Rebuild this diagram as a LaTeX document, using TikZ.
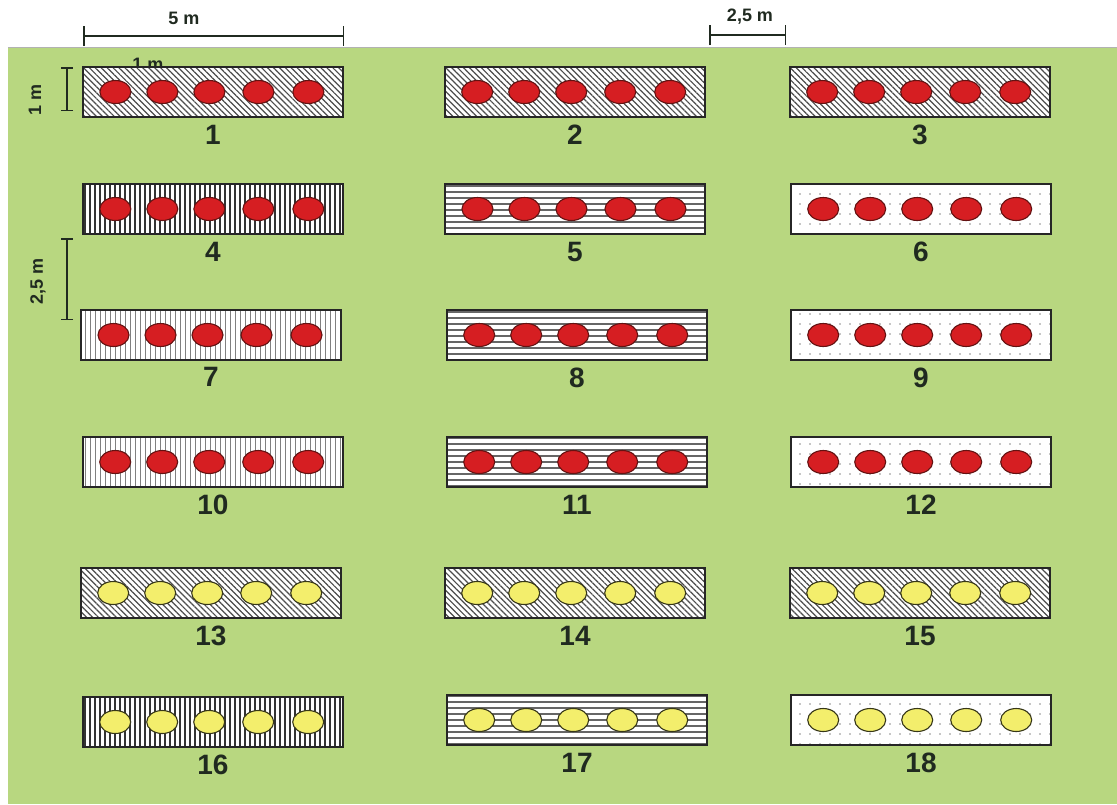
\documentclass[tikz,border=0pt]{standalone}
\usepackage{fontspec}
\setmainfont{Liberation Sans}
\usepackage{tikz}
\usetikzlibrary{
  shapes.geometric,
  arrows.meta,
  positioning,
  patterns.meta
}
\definecolor{fieldgreen}{RGB}{184,215,128}
\definecolor{seedred}{RGB}{214,30,34}
\definecolor{seededge}{RGB}{100,18,18}
\definecolor{seedyellow}{RGB}{243,238,108}
\definecolor{yellowedge}{RGB}{55,55,25}
\definecolor{textdark}{RGB}{32,42,32}
\tikzset{
  plotbox/.style={rectangle,draw=black!85,line width=1.6pt,preaction={fill=white},
    minimum width=260pt,minimum height=50pt,inner sep=0pt},
  hatchfill/.style={pattern={Lines[angle=-45,distance=4.2pt,line width=1.2pt]},pattern color=black!70},
  vlinefill/.style={pattern={Lines[angle=90,distance=5pt,line width=1.3pt]},pattern color=black!80},
  vlinelight/.style={pattern={Lines[angle=90,distance=5pt,line width=1pt]},pattern color=black!50},
  hlinefill/.style={pattern={Lines[distance=6pt,line width=1.1pt]},pattern color=black!60},
  dotfill/.style={pattern={Dots[distance=10pt,radius=0.8pt]},pattern color=black!45},
  seed/.style={ellipse,minimum width=31pt,minimum height=23pt,inner sep=0pt,line width=1.1pt},
  redseed/.style={seed,fill=seedred,draw=seededge},
  yellowseed/.style={seed,fill=seedyellow,draw=yellowedge},
  numlabel/.style={inner sep=0pt,font=\fontsize{28}{30}\selectfont\bfseries,text=textdark},
  dimtext/.style={inner sep=0pt,font=\fontsize{18}{20}\selectfont\bfseries,text=textdark},
  dimline/.style={line width=1.5pt,draw=textdark},
  hdim/.style={dimline,{Bar[width=20pt,line width=1.5pt]}-{Bar[width=20pt,line width=1.5pt]}},
  vdim/.style={dimline,{Bar[width=12pt,line width=1.5pt]}-{Bar[width=12pt,line width=1.5pt]}}
}

\begin{document}
\begin{tikzpicture}[x=1pt,y=-1pt]
  \useasboundingbox (0,0) rectangle (1117,804);
  \fill[white] (0,0) rectangle (1117,804);
  \fill[fieldgreen] (8,47) rectangle (1117,804);
  \draw[black!30,line width=0.8pt] (8,47) -- (1117,47);

  % small width mark, partly hidden under plot 1
  \node[dimtext,anchor=base] (onem) at (148,70) {1 m};

  % plots: number / centre x / centre y / ground cover / seed
  \foreach \n/\cx/\cy/\pat/\col in {
      1/213/92/hatchfill/redseed,   2/575/92/hatchfill/redseed,   3/920/92/hatchfill/redseed,
      4/213/209/vlinefill/redseed,  5/575/209/hlinefill/redseed,  6/921/209/dotfill/redseed,
      7/211/335/vlinelight/redseed, 8/577/335/hlinefill/redseed,  9/921/335/dotfill/redseed,
      10/213/462/vlinelight/redseed, 11/577/462/hlinefill/redseed, 12/921/462/dotfill/redseed,
      13/211/593/hatchfill/yellowseed, 14/575/593/hatchfill/yellowseed, 15/920/593/hatchfill/yellowseed,
      16/213/722/vlinefill/yellowseed, 17/577/720/hlinefill/yellowseed, 18/921/720/dotfill/yellowseed} {
    \node[plotbox,\pat] (p\n) at (\cx,\cy) {};
    \foreach \dx [count=\i] in {33,80,127,176,226}
      \node[\col] (s\n-\i) at ([xshift=\dx pt]p\n.west) {};
    \node[numlabel,below=7pt of p\n] (n\n) {\n};
  }

  % dimensions
  \coordinate (fiveL) at (83,36);
  \coordinate (fiveR) at (344,36);
  \coordinate (gapL) at (709,35);
  \coordinate (gapR) at (786,35);
  \coordinate (oneT) at (67,67);
  \coordinate (oneB) at (67,111);
  \coordinate (rowT) at (67,238);
  \coordinate (rowB) at (67,320);

  \draw[hdim] (fiveL) -- (fiveR);
  \node[dimtext] (five) at (184,18) {5 m};
  \draw[hdim] (gapL) -- (gapR);
  \node[dimtext] (gap) at (750,17) {2,5 m};
  \draw[vdim] (oneT) -- (oneB);
  \node[dimtext,rotate=90] (onev) at (35,100) {1 m};
  \draw[vdim] (rowT) -- (rowB);
  \node[dimtext,rotate=90] (rowv) at (38,281) {2,5 m};
\end{tikzpicture}
\end{document}
